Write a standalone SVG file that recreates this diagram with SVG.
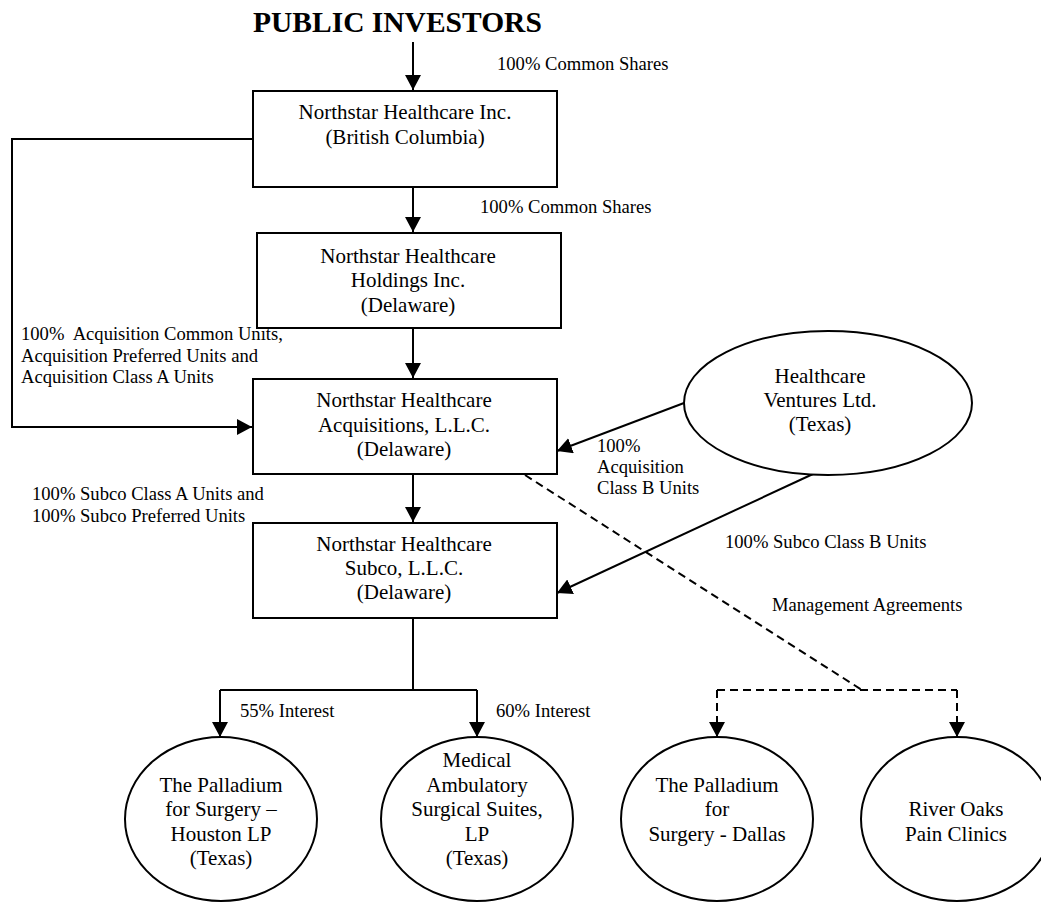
<svg xmlns="http://www.w3.org/2000/svg" width="1041" height="902" viewBox="0 0 1041 902">
<style>
text{font-family:"Liberation Serif","Times New Roman",serif;fill:#000}
.title{font-size:29.5px;font-weight:bold}
.n{font-size:21px;text-anchor:middle}
.l{font-size:18.6px;white-space:pre}
.box{fill:#fff;stroke:#000;stroke-width:2}
.ell{fill:#fff;stroke:#000;stroke-width:2}
.c{fill:none;stroke:#000;stroke-width:2}
.d{fill:none;stroke:#000;stroke-width:2;stroke-dasharray:8 5}
</style>
<defs>
<marker id="ah" markerUnits="userSpaceOnUse" markerWidth="16" markerHeight="16" viewBox="0 0 16 16" refX="15" refY="8" orient="auto">
<path d="M0,0 L15,8 L0,16 Z" fill="#000" stroke="none"/>
</marker>
</defs>
<g id="connectors">
<path class="c" d="M413,42 V90" marker-end="url(#ah)"/>
<path class="c" d="M413,187 V232" marker-end="url(#ah)"/>
<path class="c" d="M413,328 V378" marker-end="url(#ah)"/>
<path class="c" d="M413,474 V522" marker-end="url(#ah)"/>
<path class="c" d="M253,139 H12 V427 H252" marker-end="url(#ah)"/>
<path class="c" d="M413,618 V690"/>
<path class="c" d="M220,690 H477"/>
<path class="c" d="M220,690 V737" marker-end="url(#ah)"/>
<path class="c" d="M477,690 V737" marker-end="url(#ah)"/>
<path class="c" d="M684,403 L557,451" marker-end="url(#ah)"/>
<path class="c" d="M813,474 L557,593" marker-end="url(#ah)"/>
<path class="d" d="M525,475 L862,690"/>
<path class="d" d="M717,690 H957"/>
<path class="d" d="M717,690 V737" marker-end="url(#ah)"/>
<path class="d" d="M957,690 V737" marker-end="url(#ah)"/>
</g>
<g id="public-investors">
<text class="title" x="253" y="32">PUBLIC INVESTORS</text>
</g>
<g id="labels">
<text class="l" x="497" y="70">100% Common Shares</text>
<text class="l" x="480" y="213">100% Common Shares</text>
<text class="l" x="21" y="340">100%  Acquisition Common Units,</text>
<text class="l" x="21" y="362">Acquisition Preferred Units and</text>
<text class="l" x="21" y="383">Acquisition Class A Units</text>
<text class="l" x="32" y="500">100% Subco Class A Units and</text>
<text class="l" x="32" y="522">100% Subco Preferred Units</text>
<text class="l" x="597" y="452">100%</text>
<text class="l" x="597" y="473">Acquisition</text>
<text class="l" x="597" y="494">Class B Units</text>
<text class="l" x="725" y="548">100% Subco Class B Units</text>
<text class="l" x="772" y="611">Management Agreements</text>
<text class="l" x="240" y="717">55% Interest</text>
<text class="l" x="496" y="717">60% Interest</text>
</g>
<g id="northstar-inc">
<rect class="box" x="253" y="91" width="304" height="96"/>
<text class="n" x="405" y="119">Northstar Healthcare Inc.</text>
<text class="n" x="405" y="144">(British Columbia)</text>
</g>
<g id="northstar-holdings">
<rect class="box" x="257" y="233" width="304" height="95"/>
<text class="n" x="408" y="263">Northstar Healthcare</text>
<text class="n" x="408" y="287">Holdings Inc.</text>
<text class="n" x="408" y="312">(Delaware)</text>
</g>
<g id="northstar-acquisitions">
<rect class="box" x="253" y="379" width="304" height="95"/>
<text class="n" x="404" y="407">Northstar Healthcare</text>
<text class="n" x="404" y="432">Acquisitions, L.L.C.</text>
<text class="n" x="404" y="456">(Delaware)</text>
</g>
<g id="northstar-subco">
<rect class="box" x="253" y="523" width="304" height="95"/>
<text class="n" x="404" y="551">Northstar Healthcare</text>
<text class="n" x="404" y="575">Subco, L.L.C.</text>
<text class="n" x="404" y="599">(Delaware)</text>
</g>
<g id="healthcare-ventures">
<ellipse class="ell" cx="828" cy="403" rx="144" ry="72"/>
<text class="n" x="820" y="383">Healthcare</text>
<text class="n" x="820" y="407">Ventures Ltd.</text>
<text class="n" x="820" y="431">(Texas)</text>
</g>
<g id="palladium-houston">
<ellipse class="ell" cx="221" cy="819" rx="96" ry="82"/>
<text class="n" x="221" y="792">The Palladium</text>
<text class="n" x="221" y="816">for Surgery –</text>
<text class="n" x="221" y="841">Houston LP</text>
<text class="n" x="221" y="865">(Texas)</text>
</g>
<g id="medical-ambulatory">
<ellipse class="ell" cx="477" cy="819" rx="96" ry="82"/>
<text class="n" x="477" y="767">Medical</text>
<text class="n" x="477" y="792">Ambulatory</text>
<text class="n" x="477" y="816">Surgical Suites,</text>
<text class="n" x="477" y="841">LP</text>
<text class="n" x="477" y="865">(Texas)</text>
</g>
<g id="palladium-dallas">
<ellipse class="ell" cx="717" cy="819" rx="96" ry="82"/>
<text class="n" x="717" y="792">The Palladium</text>
<text class="n" x="717" y="816">for</text>
<text class="n" x="717" y="841">Surgery - Dallas</text>
</g>
<g id="river-oaks">
<ellipse class="ell" cx="957" cy="819" rx="96" ry="82"/>
<text class="n" x="956" y="816">River Oaks</text>
<text class="n" x="956" y="841">Pain Clinics</text>
</g>
</svg>
